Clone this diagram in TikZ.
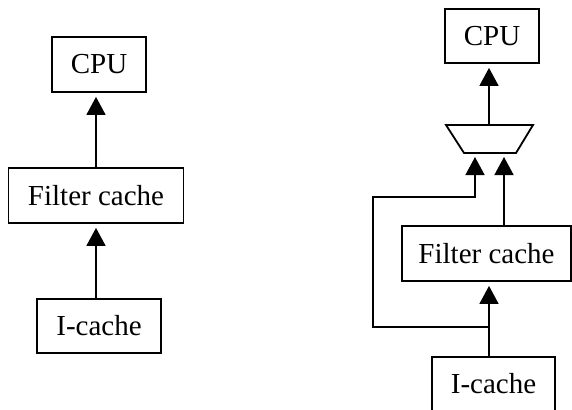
\documentclass[tikz,border=0pt]{standalone}
\usepackage{fontspec}
\setmainfont{Liberation Serif}
\usetikzlibrary{arrows.meta}
\begin{document}
\begin{tikzpicture}[x=1pt,y=-1pt,
  box/.style={draw, line width=1.8pt, inner sep=0pt, font=\fontsize{29}{34}\selectfont},
  arr/.style={line width=1.5pt, -{Triangle[length=18pt,width=19pt]}, shorten >=4pt},
  wire/.style={line width=1.5pt}]
\useasboundingbox (0,0) rectangle (572,409);
\clip (0,0) rectangle (572,409);

% Left: CPU fed straight from the filter cache
\node[box, minimum width=94pt, minimum height=55pt] (cpuA) at (99,64.5) {CPU};
\node[box, minimum width=175pt, minimum height=55pt] (fcA) at (96,195.5) {Filter cache};
\node[box, minimum width=124pt, minimum height=54pt] (icA) at (99,326) {I-cache};
\draw[arr] (fcA.north) -- (fcA.north |- cpuA.south);
\draw[arr] (icA.north -| fcA.north) -- (fcA.south);

% Right: multiplexer selects between filter cache and I-cache
\node[box, minimum width=94pt, minimum height=54pt] (cpuB) at (492,36) {CPU};
\node[box, minimum width=169pt, minimum height=55pt] (fcB) at (486.5,253.5) {Filter cache};
\node[box, minimum width=123pt, minimum height=54pt] (icB) at (493.5,384) {I-cache};

\coordinate (mtl) at (446,125);
\coordinate (mtr) at (533,125);
\coordinate (mbr) at (516,153);
\coordinate (mbl) at (464,153);
\coordinate (mout) at (489,125);
\coordinate (minA) at (475,153);
\coordinate (minB) at (504,153);
\draw[line width=1.8pt, line join=miter] (mtl) -- (mtr) -- (mbr) -- (mbl) -- cycle;

\draw[arr] (mout) -- (mout |- cpuB.south);
\draw[arr] (minB |- fcB.north) -- (minB);
\coordinate (split) at (489,327);
\coordinate (loopL) at (373,327);
\coordinate (loopT) at (373,197);
\draw[arr] (icB.north -| split) -- (split |- fcB.south);
\draw[arr] (split) -- (loopL) -- (loopT) -- (loopT -| minA) -- (minA);
\end{tikzpicture}
\end{document}
